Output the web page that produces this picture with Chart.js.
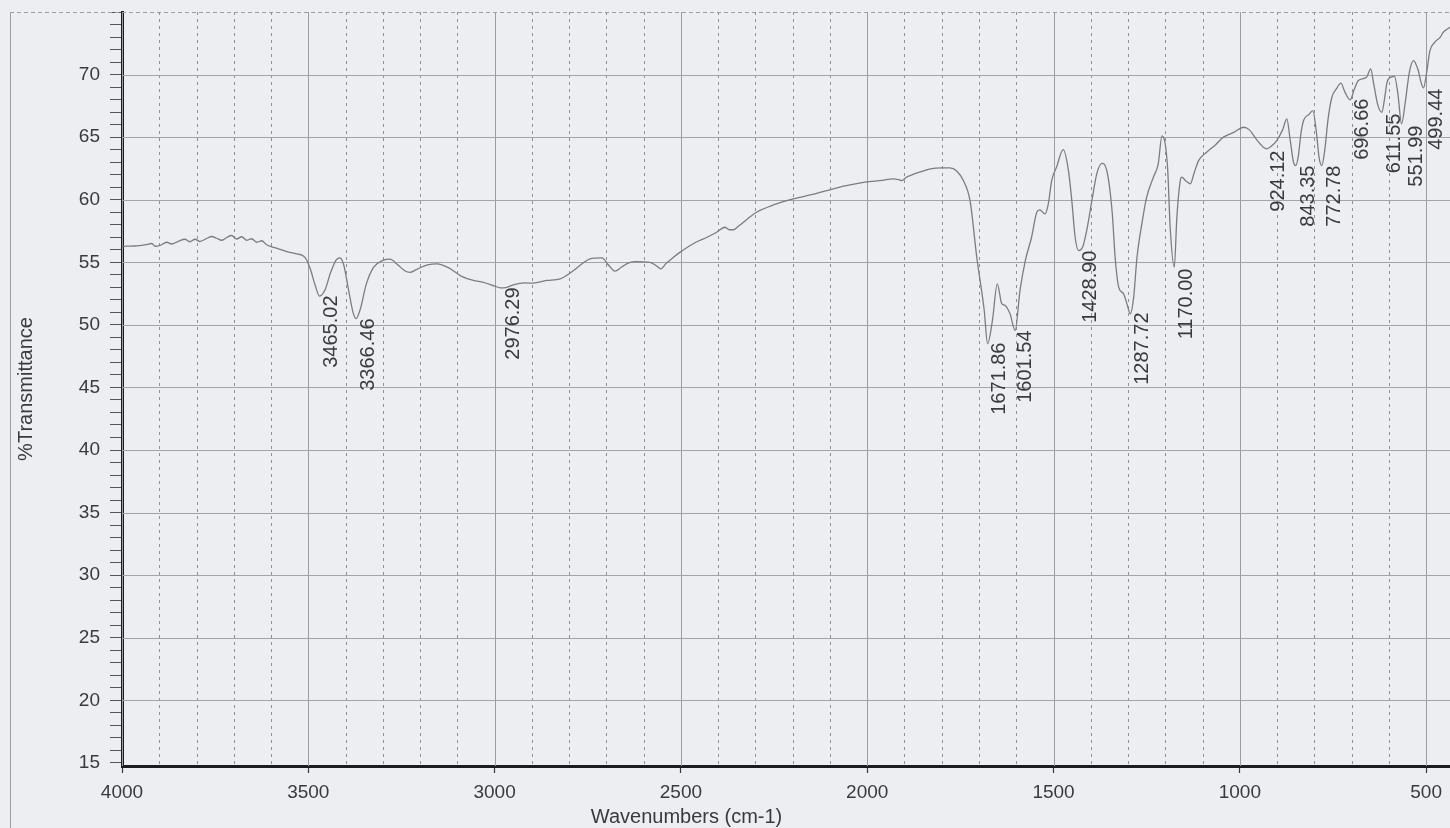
<!DOCTYPE html>
<html>
<head>
<meta charset="utf-8">
<script src="https://cdn.jsdelivr.net/npm/chart.js@4/dist/chart.umd.min.js"></script>
<style>
html,body{margin:0;padding:0;background:#eceef2;overflow:hidden}
canvas{display:block}
</style>
</head>
<body>
<canvas id="c" width="1450" height="828"></canvas>
<script>
// ---- data ----
const wavenumbers = [
 4000,3987,3965,3952,3934,3920,3911,3898,3880,3867,3849,3831,3818,3804,3791,3773,3759,3746,3732,3719,
 3706,3692,3679,3665,3652,3638,3625,3612,3598,3580,3558,3531,3509,3495,3482,3470,3455,3440,3425,3415,
 3405,3392,3380,3372,3360,3345,3325,3300,3281,3260,3240,3227,3205,3180,3155,3120,3090,3057,3030,3000,
 2985,2970,2950,2920,2896,2860,2824,2790,2760,2744,2712,2695,2677,2660,2640,2619,2583,2565,2554,2540,
 2520,2502,2460,2430,2404,2382,2370,2360,2345,2320,2297,2250,2198,2150,2109,2060,2006,1960,1930,1915,
 1907,1895,1885,1860,1831,1800,1778,1760,1742,1724,1706,1686,1677,1664,1651,1639,1630,1617,1603,1590,
 1576,1559,1545,1537,1523,1514,1505,1492,1474,1460,1451,1442,1433,1422,1411,1397,1384,1370,1357,1343,
 1334,1325,1312,1303,1294,1285,1276,1263,1250,1232,1219,1209,1194,1187,1176,1169,1160,1156,1145,1133,
 1122,1111,1089,1065,1044,1015,990,975,955,937,928,915,901,885,874,865,856,850,843,836,
 829,815,804,795,787,780,772,763,753,740,729,718,704,693,682,660,649,641,630,619,
 612,605,594,585,576,566,556,545,534,522,513,507,498,490,477,462,454,436
];
const transmittance = [
 56.25,56.29,56.3,56.34,56.42,56.5,56.28,56.35,56.6,56.46,56.68,56.84,56.64,56.84,56.66,56.9,57.06,56.92,56.76,56.98,
 57.14,56.86,57.04,56.76,56.88,56.6,56.72,56.4,56.24,56.08,55.86,55.68,55.4,54.5,53.2,52.3,52.8,54.2,55.2,55.36,
 54.8,52.8,51.0,50.5,51.3,53.2,54.6,55.15,55.25,54.8,54.3,54.2,54.5,54.8,54.88,54.5,53.9,53.55,53.4,53.1,
 52.96,52.98,53.2,53.35,53.33,53.55,53.68,54.3,55.0,55.28,55.36,54.8,54.29,54.6,54.95,55.06,55.0,54.7,54.48,54.9,
 55.4,55.81,56.6,57.0,57.4,57.8,57.6,57.6,57.9,58.5,59.0,59.6,60.07,60.4,60.73,61.1,61.4,61.55,61.67,61.6,
 61.53,61.8,61.93,62.2,62.47,62.55,62.55,62.3,61.53,59.9,55.4,51.15,48.5,50.35,53.28,51.7,51.55,50.9,49.55,52.75,
 55.1,57.0,59.0,59.19,58.87,59.67,61.53,62.6,64.0,62.33,59.94,57.0,55.94,56.2,57.54,59.94,62.07,62.9,62.33,59.14,
 55.14,53.0,52.48,51.68,50.89,52.2,55.4,58.07,60.2,61.8,62.87,65.1,62.6,57.8,54.6,58.6,61.5,61.8,61.5,61.27,
 62.2,63.1,63.8,64.4,65.0,65.4,65.79,65.6,64.8,64.2,64.07,64.3,64.73,65.6,66.46,64.8,63.0,62.73,63.5,65.3,
 66.33,66.8,67.12,65.5,63.3,62.73,64.0,66.5,68.19,68.9,69.31,68.6,67.98,68.8,69.52,69.78,70.45,69.3,67.6,66.99,
 68.0,69.38,69.8,69.85,68.5,66.06,67.8,70.2,71.12,70.4,69.3,68.94,70.3,71.9,72.58,73.0,73.38,73.78
];
const peakWavenumbers = [3465.02,3366.46,2976.29,1671.86,1601.54,1428.90,1287.72,1170.00,924.12,843.35,772.78,696.66,611.55,551.99,499.44];
const peakTransmittance = [52.35,50.51,52.99,48.59,49.55,55.94,50.99,54.5,63.93,62.73,62.73,68.08,66.88,65.93,68.88];
const peakLabels = ["3465.02","3366.46","2976.29","1671.86","1601.54","1428.90","1287.72","1170.00","924.12","843.35","772.78","696.66","611.55","551.99","499.44"];
const xTickValues = [4000,3500,3000,2500,2000,1500,1000,500];
const yTickValues = [15,20,25,30,35,40,45,50,55,60,65,70];
const xAxisTitle = "Wavenumbers (cm-1)";
const yAxisTitle = "%Transmittance";

const TEXT = '#3a3a3c';
const FONT = '"Liberation Sans", Arial, sans-serif';

const points = wavenumbers.map((w, i) => ({x: w, y: transmittance[i]}));

const decorPlugin = {
  id: 'decor',
  beforeDatasetsDraw(chart) {
    const {ctx, chartArea: a, scales: {x, y}} = chart;
    ctx.save();
    // outer frame
    ctx.strokeStyle = '#9c9ea3';
    ctx.lineWidth = 1;
    ctx.setLineDash([]);
    ctx.beginPath();
    ctx.moveTo(10.5, a.top); ctx.lineTo(10.5, 828);
    ctx.stroke();
    ctx.setLineDash([4, 3]);
    ctx.beginPath();
    ctx.moveTo(10, a.top + 0.5); ctx.lineTo(a.right, a.top + 0.5);
    ctx.stroke();

    ctx.beginPath();
    ctx.rect(a.left, a.top, a.right - a.left, a.bottom - a.top);
    ctx.clip();
    // vertical grid: dashed every 100, solid every 500
    for (let v = 400; v <= 4000; v += 100) {
      const px = Math.round(x.getPixelForValue(v)) + 0.5;
      if (v % 500 === 0) { ctx.setLineDash([]); ctx.strokeStyle = '#9a9ca1'; }
      else { ctx.setLineDash([3, 4]); ctx.strokeStyle = '#8e9095'; }
      ctx.beginPath(); ctx.moveTo(px, a.top); ctx.lineTo(px, a.bottom); ctx.stroke();
    }
    // horizontal grid every 5
    ctx.setLineDash([]);
    ctx.strokeStyle = '#a2a4a9';
    for (let t = 20; t <= 70; t += 5) {
      const py = Math.round(y.getPixelForValue(t)) + 0.5;
      ctx.beginPath(); ctx.moveTo(a.left, py); ctx.lineTo(a.right, py); ctx.stroke();
    }
    ctx.restore();
  },
  afterDatasetsDraw(chart) {
    const {ctx, scales: {x, y}} = chart;
    ctx.save();
    ctx.fillStyle = TEXT;
    ctx.font = '20px ' + FONT;
    ctx.textAlign = 'right';
    ctx.textBaseline = 'middle';
    peakWavenumbers.forEach((w, i) => {
      const px = x.getPixelForValue(w) + 10;
      const py = y.getPixelForValue(peakTransmittance[i]);
      ctx.save();
      ctx.translate(px, py);
      ctx.rotate(-Math.PI / 2);
      ctx.fillText(peakLabels[i], 0, 0);
      ctx.restore();
    });
    // x axis title
    ctx.textAlign = 'center';
    ctx.textBaseline = 'middle';
    ctx.font = '20px ' + FONT;
    ctx.fillText(xAxisTitle, x.getPixelForValue(2485), 817);
    ctx.restore();
  }
};

new Chart(document.getElementById('c'), {
  type: 'line',
  data: {
    datasets: [{
      data: points,
      borderColor: '#7b7c80',
      borderWidth: 1.3,
      pointRadius: 0,
      fill: false,
      cubicInterpolationMode: 'monotone'
    }]
  },
  options: {
    responsive: false,
    animation: false,
    devicePixelRatio: 1,
    events: [],
    layout: {padding: {left: 10, top: 12, right: 0, bottom: 0}},
    plugins: {legend: {display: false}, tooltip: {enabled: false}},
    scales: {
      x: {
        type: 'linear',
        reverse: true,
        min: 436,
        max: 4000,
        afterBuildTicks: (axis) => { axis.ticks = xTickValues.map(v => ({value: v})); },
        afterFit: (axis) => { axis.height = 62; axis.paddingLeft = 0; axis.paddingRight = 0; },
        ticks: {
          autoSkip: false, maxRotation: 0, padding: 8,
          color: TEXT, font: {family: FONT, size: 19},
          callback: (v) => String(v)
        },
        grid: {drawOnChartArea: false, drawTicks: true, tickLength: 7, tickColor: '#3a3a3a', tickWidth: 1.2},
        border: {display: true, color: '#1c1c1e', width: 3},
        title: {display: false}
      },
      y: {
        type: 'linear',
        min: 14.75,
        max: 75,
        afterBuildTicks: (axis) => {
          const t = [];
          for (let v = 15; v <= 75; v++) t.push({value: v});
          axis.ticks = t;
        },
        afterFit: (axis) => { axis.width = 112; axis.paddingTop = 0; axis.paddingBottom = 0; },
        ticks: {
          autoSkip: false, padding: 10,
          color: TEXT, font: {family: FONT, size: 19},
          callback: (v) => yTickValues.includes(v) ? String(v) : ''
        },
        grid: {drawOnChartArea: false, drawTicks: true, tickLength: 12, tickColor: '#555558', tickWidth: 1},
        border: {display: true, color: '#1c1c1e', width: 3},
        title: {display: true, text: yAxisTitle, color: TEXT, font: {family: FONT, size: 20}, padding: {top: 4, bottom: 0}}
      }
    }
  },
  plugins: [decorPlugin]
});
</script>
</body>
</html>
